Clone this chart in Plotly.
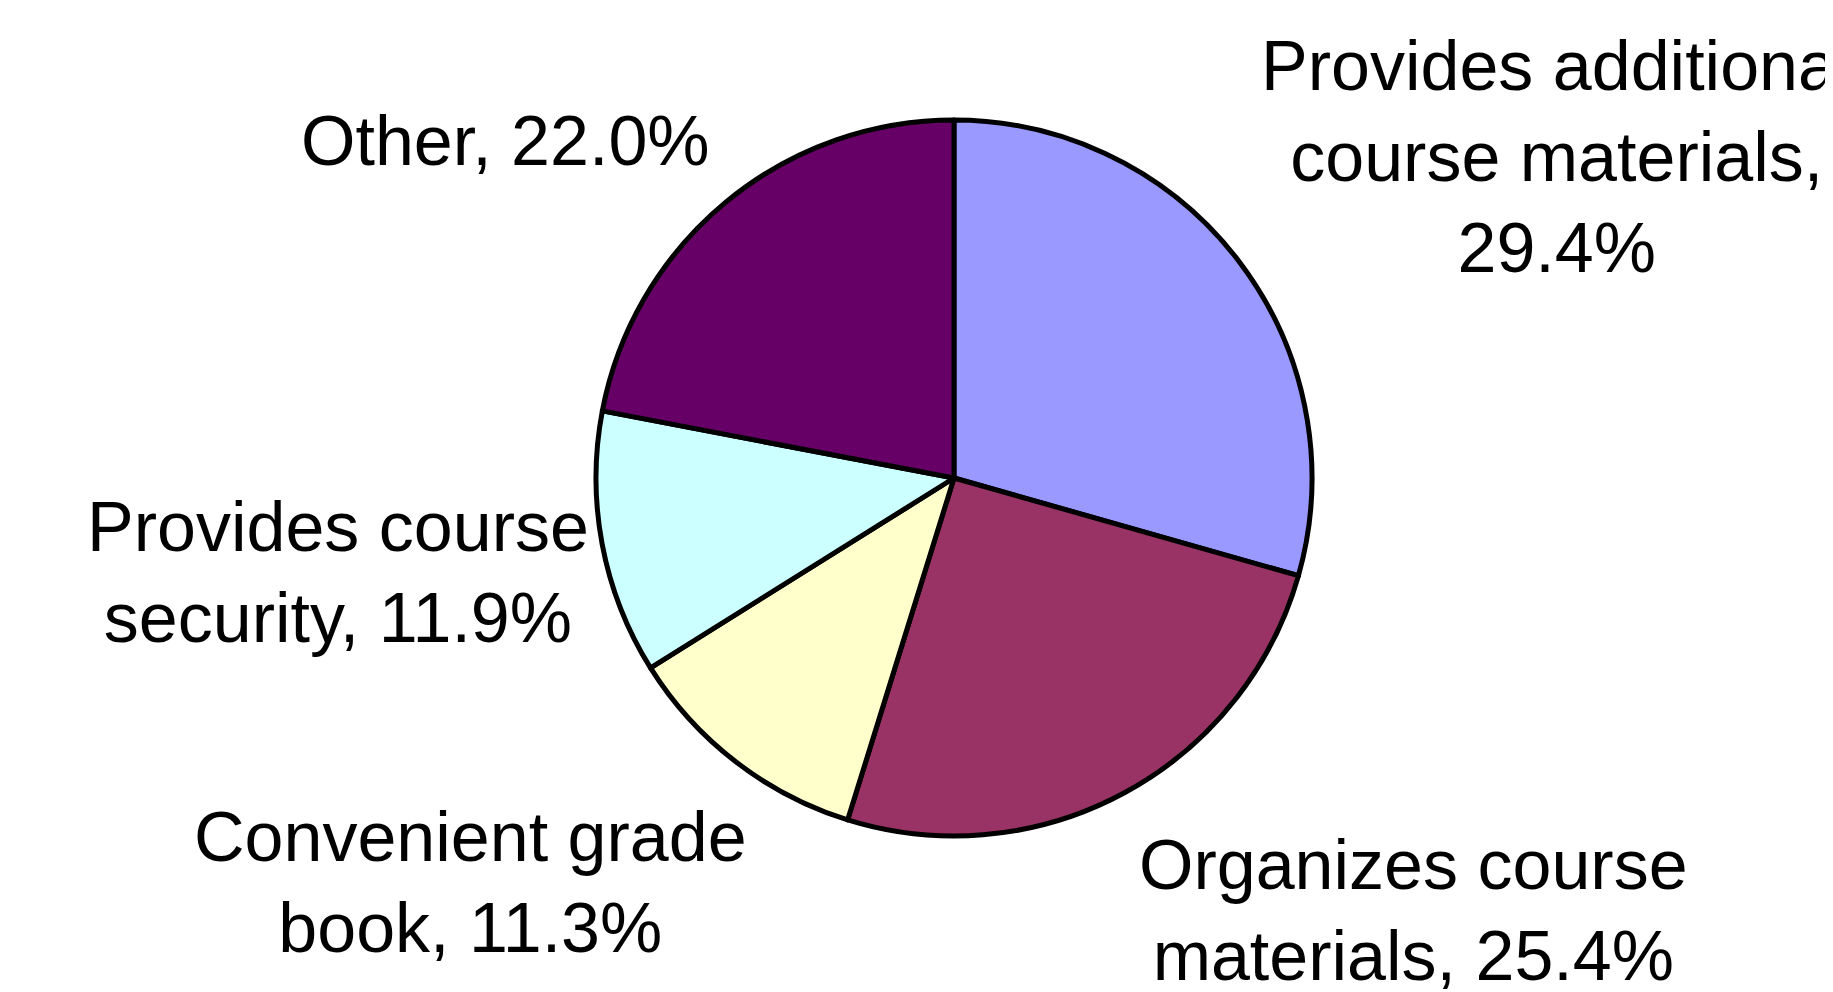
import plotly.graph_objects as go

# Data
labels = [
    "Provides additional course materials",
    "Organizes course materials",
    "Convenient grade book",
    "Provides course security",
    "Other",
]
values = [29.4, 25.4, 11.3, 11.9, 22.0]
label_lines = [
    "Provides additional<br>course materials,<br>{v}%",
    "Organizes course<br>materials, {v}%",
    "Convenient grade<br>book, {v}%",
    "Provides course<br>security, {v}%",
    "Other, {v}%",
]
colors = ["#9999FF", "#993366", "#FFFFCC", "#CCFFFF", "#660066"]

W, H = 1833, 992
OFF = 8  # page body margin
# label anchor positions in window pixels (x from left, y from top)
label_pos = [(1556, 157), (1413, 910), (470, 882), (338, 572), (505, 141)]

cx, cy, r = 954, 478, 358

fig = go.Figure(
    go.Pie(
        labels=labels,
        values=values,
        sort=False,
        direction="clockwise",
        rotation=0,
        marker=dict(colors=colors, line=dict(color="black", width=5)),
        textinfo="none",
        hoverinfo="label+percent",
        showlegend=False,
        domain=dict(
            x=[(cx - OFF - r) / W, (cx - OFF + r) / W],
            y=[(H - (cy - OFF) - r) / H, (H - (cy - OFF) + r) / H],
        ),
    )
)

annotations = []
for tmpl, v, (px, py) in zip(label_lines, values, label_pos):
    annotations.append(
        dict(
            text=tmpl.format(v=f"{v:.1f}"),
            x=(px - OFF) / W,
            y=1 - (py - OFF) / H,
            xref="paper",
            yref="paper",
            xanchor="center",
            yanchor="middle",
            align="center",
            showarrow=False,
            font=dict(family="Liberation Sans, Arial, sans-serif", size=70, color="black"),
        )
    )

fig.update_layout(
    width=W,
    height=H,
    margin=dict(l=0, r=0, t=0, b=0),
    paper_bgcolor="white",
    plot_bgcolor="white",
    annotations=annotations,
)

fig.write_html("out.html")
